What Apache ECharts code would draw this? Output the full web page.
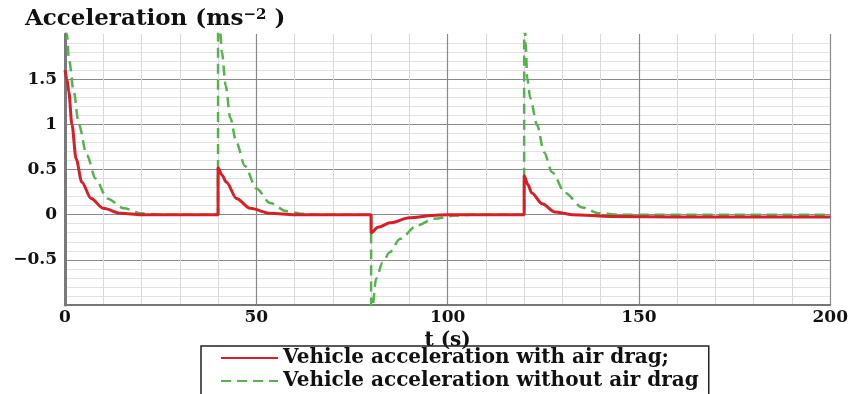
<!DOCTYPE html>
<html>
<head>
<meta charset="utf-8">
<script src="https://cdn.jsdelivr.net/npm/echarts@6/dist/echarts.min.js"></script>
<style>
  html, body { margin: 0; padding: 0; background: #fff; }
  #chart { width: 851px; height: 394px; }
</style>
</head>
<body>
<div id="chart"></div>
<script>
// time (s) and acceleration (m/s^2)
const tDrag = [0, 0.5, 1, 1.8, 2.9, 4.4, 6.8, 10, 14.6, 20, 40,
  40, 41, 42.2, 44.8, 48.4, 53.6, 60, 80,
  80, 81.8, 85, 90, 96, 100, 120,
  120, 121, 122, 124.7, 128, 132.5, 143, 160, 200];
const aDrag = [1.6, 1.5, 1.36, 1.0, 0.62, 0.36, 0.18, 0.07, 0.015, 0, 0,
  0.52, 0.44, 0.36, 0.18, 0.07, 0.015, 0, 0,
  -0.2, -0.14, -0.09, -0.035, -0.01, 0, 0,
  0.43, 0.33, 0.24, 0.12, 0.03, 0, -0.02, -0.025, -0.025];

const tNoDrag = [0, 0.5, 1, 2.3, 3.6, 5.7, 8, 11, 15.4, 19.8, 25, 40,
  40, 40.5, 41, 42, 43.2, 44.8, 47, 50, 53.6, 57.8, 62, 66, 80,
  80, 80.4, 81.3, 83, 84.8, 87.5, 92, 96.5, 102, 106, 120,
  120, 120.4, 120.8, 121.6, 123.4, 125.2, 127.3, 130.7, 135.2, 139.6, 145, 200];
const aNoDrag = [2.4, 2.0, 1.73, 1.36, 1.0, 0.66, 0.4, 0.18, 0.07, 0.015, 0, 0,
  2.4, 2.05, 1.8, 1.43, 1.07, 0.8, 0.54, 0.29, 0.13, 0.04, 0.01, 0, 0,
  -1.3, -1.0, -0.71, -0.53, -0.42, -0.27, -0.12, -0.045, -0.01, 0, 0,
  2.4, 1.9, 1.51, 1.29, 0.99, 0.69, 0.47, 0.24, 0.08, 0.015, 0, 0];

const serif = "DejaVu Serif";

function pairs(ts, vs) {
  return ts.map(function (t, i) { return [t, vs[i]]; });
}

const chart = echarts.init(document.getElementById("chart"));
chart.setOption({
  animation: false,
  backgroundColor: "#fff",
  title: {
    left: 20,
    top: 3,
    text: "{a|Acceleration (ms}{s|−2}{a| )}",
    textStyle: {
      rich: {
        a: { fontFamily: serif, fontWeight: "bold", fontSize: 23, color: "#111" },
        s: { fontFamily: serif, fontWeight: "bold", fontSize: 15, color: "#111", verticalAlign: "top", padding: [0, 0, 8, 0] }
      }
    }
  },
  legend: {
    orient: "vertical",
    left: 201,
    top: 346,
    height: 60,
    itemWidth: 57,
    itemHeight: 14,
    itemGap: 3,
    padding: [2, 10, 6, 19],
    borderColor: "#222",
    borderWidth: 1.5,
    itemStyle: { opacity: 0 },
    textStyle: { fontFamily: serif, fontWeight: "bold", fontSize: 20, color: "#111" },
    data: ["Vehicle acceleration with air drag;", "Vehicle acceleration without air drag"]
  },
  grid: { left: 65, right: 16, top: 34, bottom: 89 },
  xAxis: {
    type: "value",
    min: 0,
    max: 200,
    interval: 50,
    name: "t (s)",
    nameLocation: "middle",
    nameGap: 14,
    nameTextStyle: { fontFamily: serif, fontWeight: "bold", fontSize: 20, color: "#111" },
    axisLine: { onZero: false, lineStyle: { color: "#777", width: 2 } },
    axisTick: { show: false },
    axisLabel: { margin: 4, fontFamily: serif, fontWeight: "bold", fontSize: 17, color: "#111" },
    splitLine: { lineStyle: { color: "#8a8a8a", width: 1.2 } },
    minorTick: { show: false, splitNumber: 5 },
    minorSplitLine: { show: true, lineStyle: { color: "#d9d9d9", width: 1 } }
  },
  yAxis: {
    type: "value",
    min: -1,
    max: 2,
    interval: 0.5,
    axisLine: { show: true, lineStyle: { color: "#7a7a7a", width: 3 } },
    axisTick: { show: false },
    axisLabel: {
      margin: 8,
      fontFamily: serif,
      fontWeight: "bold",
      fontSize: 17,
      color: "#111",
      formatter: function (v) {
        if (v <= -1 || v >= 2) return "";
        if (v < 0) return "−" + Math.abs(v);
        return String(v);
      }
    },
    splitLine: { showMaxLine: false, lineStyle: { color: "#8a8a8a", width: 1.2 } },
    minorTick: { show: false, splitNumber: 5 },
    minorSplitLine: { show: true, lineStyle: { color: "#e2e2e2", width: 1 } }
  },
  series: [
    {
      name: "Vehicle acceleration with air drag;",
      type: "line",
      symbol: "none",
      smooth: 0.3,
      smoothMonotone: "x",
      z: 3,
      lineStyle: { color: "#d61f26", width: 3 },
      itemStyle: { color: "#d61f26" },
      data: pairs(tDrag, aDrag)
    },
    {
      name: "Vehicle acceleration without air drag",
      type: "line",
      symbol: "none",
      smooth: 0.3,
      smoothMonotone: "x",
      z: 2,
      lineStyle: { color: "#55b24e", width: 2.5, type: [10, 6] },
      itemStyle: { color: "#55b24e" },
      data: pairs(tNoDrag, aNoDrag)
    }
  ]
});
</script>
</body>
</html>
